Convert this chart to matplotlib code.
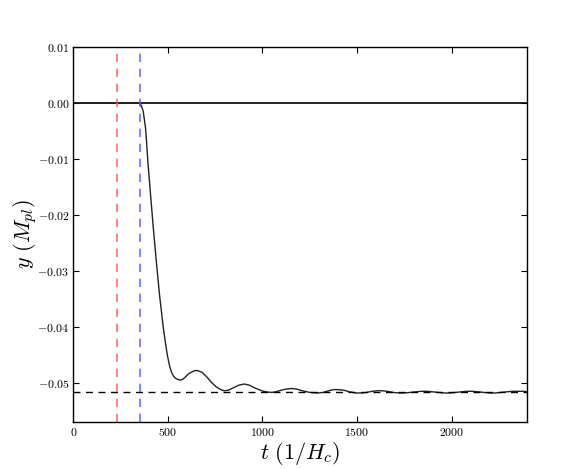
import matplotlib
matplotlib.use("Agg")
import matplotlib.pyplot as plt
from matplotlib.ticker import FuncFormatter, MultipleLocator

t_vals = [0, 345, 352, 360, 370, 382, 388, 394, 408.5, 423, 439, 456, 476, 487, 497,
          508, 518, 530, 541, 555, 568, 581, 594, 612, 629, 643, 656, 680, 705, 730,
          755, 780, 797, 820, 845, 875, 904, 930, 960, 995, 1020, 1045, 1070, 1100,
          1125, 1151, 1180, 1210, 1250, 1293, 1320, 1350, 1375, 1399, 1430, 1460,
          1495, 1523, 1550, 1580, 1605, 1629, 1660, 1690, 1720, 1750, 1780, 1810,
          1840, 1870, 1900, 1930, 1960, 1990, 2020, 2050, 2080, 2110, 2140, 2170,
          2200, 2230, 2260, 2290, 2320, 2350, 2380, 2400]
y_vals = [0.0, 0.0, -0.0001, -0.0005, -0.00155, -0.0045, -0.0072, -0.0104, -0.0164,
          -0.0223, -0.0283, -0.0343, -0.0402, -0.0428, -0.0450, -0.0468, -0.0480,
          -0.0488, -0.0492, -0.0494, -0.0495, -0.0493, -0.0489, -0.0483, -0.0480,
          -0.0478, -0.0478, -0.0481, -0.0489, -0.0499, -0.0507, -0.0512, -0.0514,
          -0.0513, -0.0509, -0.0504, -0.0502, -0.0504, -0.0509, -0.0514, -0.0516,
          -0.0517, -0.0516, -0.0513, -0.0511, -0.0510, -0.0511, -0.0514, -0.0517,
          -0.0518, -0.0517, -0.0514, -0.0512, -0.0512, -0.0513, -0.0516, -0.0518,
          -0.0518, -0.0517, -0.0515, -0.0514, -0.0514, -0.0515, -0.0517, -0.0518,
          -0.0518, -0.0517, -0.0516, -0.0515, -0.0515, -0.0516, -0.0517, -0.0518,
          -0.0518, -0.0517, -0.0516, -0.0515, -0.0515, -0.0516, -0.0517, -0.0518,
          -0.0518, -0.0517, -0.0516, -0.0515, -0.0515, -0.0515, -0.0516]
y_final = -0.0517
t_red = 232
t_blue = 352

plt.rcParams['mathtext.fontset'] = 'cm'
plt.rcParams['font.family'] = 'DejaVu Serif'

fig = plt.figure(figsize=(5.86, 4.69), dpi=100)
ax = fig.add_axes([0.125, 0.1, 0.775, 0.8])

ax.axhline(0, color='black', lw=1.2)
ax.plot(t_vals, y_vals, color='#222222', lw=1.0)
ax.axhline(y_final, color='black', lw=1.0, ls=(0, (5, 4)))
ax.axvline(t_red, color='#ff5555', lw=1.2, ls=(0, (5, 4)), alpha=0.85)
ax.axvline(t_blue, color='#5555ff', lw=1.2, ls=(0, (5, 4)), alpha=0.85)

ax.set_xlim(0, 2400)
ax.set_ylim(-0.057, 0.01)
ax.xaxis.set_major_locator(MultipleLocator(500))
ax.yaxis.set_major_locator(MultipleLocator(0.01))

def yfmt(v, pos):
    if abs(v) < 1e-9:
        v = 0.0
    return r"$%.2f$" % v

def xfmt(v, pos):
    return r"$%d$" % int(round(v))

ax.yaxis.set_major_formatter(FuncFormatter(yfmt))
ax.xaxis.set_major_formatter(FuncFormatter(xfmt))
ax.tick_params(direction='in', top=True, right=True, labelsize=8.5, length=4,
               width=0.8, pad=3)
for s in ax.spines.values():
    s.set_linewidth(1.0)

ax.set_xlabel(r"$t\ (1/H_c)$", fontsize=16)
ax.set_ylabel(r"$y\ (M_{pl})$", fontsize=16)
ax.xaxis.set_label_coords(0.5, -0.048)
ax.yaxis.set_label_coords(-0.075, 0.5)

fig.savefig("out.png", dpi=100)
